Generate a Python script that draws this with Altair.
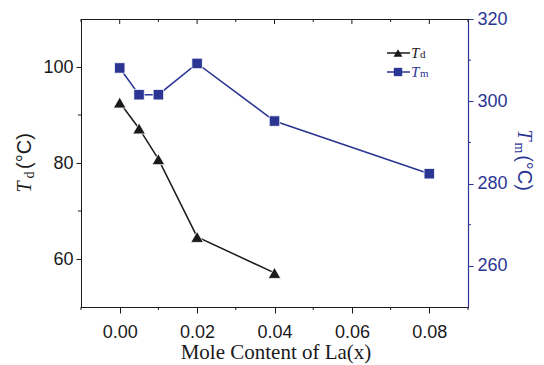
import altair as alt
import pandas as pd

# ---- data ----
la_td = [0.0, 0.005, 0.01, 0.02, 0.04]
td_vals = [92.6, 87.2, 80.8, 64.6, 57.1]
la_tm = [0.0, 0.005, 0.01, 0.02, 0.04, 0.08]
tm_vals = [308.1, 301.6, 301.6, 309.2, 295.2, 282.4]

x_major = [0.0, 0.02, 0.04, 0.06, 0.08]
x_minor = [-0.01, 0.01, 0.03, 0.05, 0.07, 0.09]
td_major = [60, 80, 100]
td_minor = [70, 90]
tm_major = [260, 280, 300, 320]
tm_minor = [270, 290, 310]

BLUE = "#2b3593"
BLACK = "#1a1a1a"
W, H = 387, 288
SANS = "Liberation Sans"
SERIF = "Liberation Serif"

td_df = pd.DataFrame({"x": la_td, "y": td_vals})
tm_df = pd.DataFrame({"x": la_tm, "y": tm_vals})
dummy = alt.Data(values=[{"a": 1}])

xscale = alt.Scale(domain=[-0.01, 0.09], nice=False, zero=False)
td_scale = alt.Scale(domain=[50, 110], nice=False, zero=False)
tm_scale = alt.Scale(domain=[250, 320], nice=False, zero=False)

x_axis = alt.Axis(values=x_major, format=".2f", orient="bottom", tickSize=6,
                  tickColor=BLACK, domainColor=BLACK, labelFont=SANS,
                  labelFontSize=18, labelColor=BLACK, labelPadding=10, grid=False,
                  title=None)
td_axis = alt.Axis(values=td_major, orient="left", tickSize=5, tickColor=BLACK,
                   domainColor=BLACK, labelFont=SANS, labelFontSize=18,
                   labelColor=BLACK, labelPadding=3, grid=False, title=None)
tm_axis = alt.Axis(values=tm_major, orient="right", tickSize=5, tickColor=BLUE,
                   domainColor=BLUE, domainWidth=1.2, labelFont=SANS, labelFontSize=18,
                   labelColor=BLUE, labelPadding=4, grid=False, title=None)

X = lambda: alt.X("x:Q", scale=xscale, axis=x_axis)
Ytd = lambda: alt.Y("y:Q", scale=td_scale, axis=td_axis)
Ytm = lambda: alt.Y("y:Q", scale=tm_scale, axis=tm_axis)


def txt(text, x, y, size, color, font, style="normal", angle=0,
        align="center", baseline="middle"):
    return alt.Chart(dummy).mark_text(
        text=text, font=font, fontSize=size, fontStyle=style, color=color,
        angle=angle, align=align, baseline=baseline
    ).encode(x=alt.value(x), y=alt.value(y))


# ---- Td group ----
td_line = alt.Chart(td_df).mark_line(color=BLACK, strokeWidth=1.5).encode(x=X(), y=Ytd())
td_pts = alt.Chart(td_df).mark_point(
    shape="triangle-up", filled=True, size=160, fill=BLACK, opacity=1,
    stroke="white", strokeWidth=0.8).encode(x=X(), y=Ytd())
left_minor = alt.Chart(pd.DataFrame({"y": td_minor})).mark_rule(color=BLACK).encode(
    y=Ytd(), x=alt.value(0), x2=alt.value(-3))
bottom_minor = alt.Chart(pd.DataFrame({"x": x_minor})).mark_rule(color=BLACK).encode(
    x=X(), y=alt.value(H), y2=alt.value(H + 3))
top_major = alt.Chart(pd.DataFrame({"x": x_major})).mark_rule(color=BLACK).encode(
    x=X(), y=alt.value(0), y2=alt.value(5))
top_minor = alt.Chart(pd.DataFrame({"x": x_minor})).mark_rule(color=BLACK).encode(
    x=X(), y=alt.value(0), y2=alt.value(3))

# x axis title
x_title = txt("Mole Content of La(x)", 195, 340, 21, BLACK, SERIF, baseline="alphabetic")
# left axis title  T_d(°C)
lt_T = txt("T", -56, 168, 20, BLACK, SERIF, style="italic", angle=270)
lt_d = txt("d", -51, 156, 14, BLACK, SERIF, angle=270)
lt_c = txt("(°C)", -56, 132, 20, BLACK, SANS, angle=270)
# right axis title  T_m(°C)
rt_T = txt("T", 443, 116, 20, BLUE, SERIF, style="italic", angle=90)
rt_m = txt("m", 438, 129, 14, BLUE, SERIF, angle=90)
rt_c = txt("(°C)", 443, 154, 20, BLUE, SANS, angle=90)

# legend
lg1_line = alt.Chart(dummy).mark_rule(color=BLACK, strokeWidth=1.5).encode(
    x=alt.value(306), x2=alt.value(329), y=alt.value(34))
lg1_pt = alt.Chart(dummy).mark_point(shape="triangle-up", filled=True, size=80,
                                     fill=BLACK, opacity=1).encode(
    x=alt.value(317), y=alt.value(34))
lg1_T = txt("T", 330, 33.5, 15, BLACK, SERIF, style="italic", align="left")
lg1_d = txt("d", 339, 36, 11, BLACK, SERIF, align="left")
lg2_line = alt.Chart(dummy).mark_rule(color=BLUE, strokeWidth=1.5).encode(
    x=alt.value(306), x2=alt.value(329), y=alt.value(53))
lg2_pt = alt.Chart(dummy).mark_point(shape="square", filled=True, size=70,
                                     fill=BLUE, opacity=1).encode(
    x=alt.value(317), y=alt.value(53))
lg2_T = txt("T", 330, 52.5, 15, BLUE, SERIF, style="italic", align="left")
lg2_m = txt("m", 339, 55, 11, BLUE, SERIF, align="left")

td_group = alt.layer(td_line, td_pts, left_minor, bottom_minor, top_major, top_minor,
                     x_title, lt_T, lt_d, lt_c, rt_T, rt_m, rt_c,
                     lg1_line, lg1_pt, lg1_T, lg1_d, lg2_line, lg2_pt, lg2_T, lg2_m)

# ---- Tm group ----
tm_line = alt.Chart(tm_df).mark_line(color=BLUE, strokeWidth=1.5).encode(x=X(), y=Ytm())
tm_pts = alt.Chart(tm_df).mark_point(
    shape="square", filled=True, size=110, fill=BLUE, opacity=1,
    stroke="white", strokeWidth=0.8).encode(x=X(), y=Ytm())
right_minor = alt.Chart(pd.DataFrame({"y": tm_minor})).mark_rule(color=BLUE).encode(
    y=Ytm(), x=alt.value(W), x2=alt.value(W + 3))

tm_group = alt.layer(tm_line, tm_pts, right_minor)

chart = alt.layer(td_group, tm_group).resolve_scale(y="independent").properties(
    width=W, height=H,
    autosize=alt.AutoSizeParams(type="none"),
    padding={"left": 73, "top": 11, "right": 68, "bottom": 58},
    background="white",
).configure_view(stroke=BLACK, strokeWidth=1)

chart.save("out.html", embed_options={"renderer": "svg", "actions": False})
